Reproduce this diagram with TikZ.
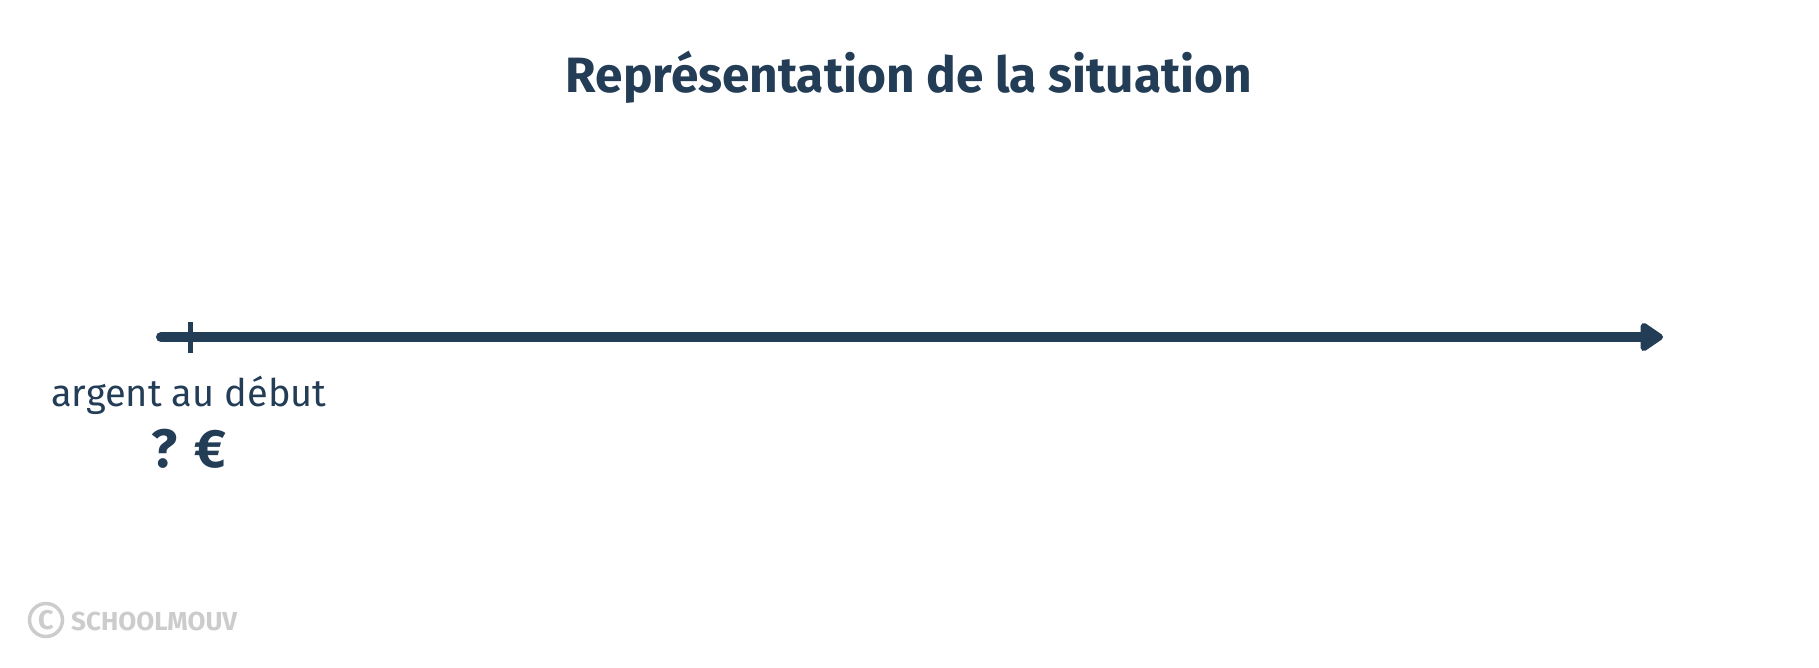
\documentclass[tikz,border=0pt]{standalone}
\usepackage{fontspec}
\setmainfont{Fira Sans}
\usetikzlibrary{arrows.meta}
\definecolor{navy}{RGB}{35,61,87}
\definecolor{logogray}{RGB}{204,204,204}
\begin{document}
\begin{tikzpicture}[x=1pt,y=-1pt,
  title/.style={text=navy,font=\fontsize{49.6}{60}\selectfont\bfseries,inner sep=0pt},
  lab/.style={text=navy,font=\fontsize{38}{44}\selectfont,inner sep=0pt},
  val/.style={text=navy,font=\fontsize{54}{64}\selectfont\bfseries,inner sep=0pt},
  axis/.style={draw=navy,line width=10pt,line cap=round,-{Triangle[length=25pt,width=32pt,round]}},
  tickmark/.style={draw=navy,line width=5pt}]
\useasboundingbox (0,0) rectangle (1819,667);
\fill[white] (0,0) rectangle (1819,667);
\node[title] (t) at (909,77) {Représentation de la situation};
\coordinate (a) at (161,337);
\coordinate (b) at (1663,337);
\draw[axis] (a) -- (b);
\coordinate (t0) at (190,322);
\coordinate (t1) at (190,353);
\draw[tickmark] (t0) -- (t1);
\node[lab,anchor=base] (l) at (189,406) {argent au début};
\node[val,anchor=base] (v) at (189,467) {? €};
\node[draw=logogray,line width=3.5pt,circle,minimum size=33pt,inner sep=0pt,text=logogray,font=\fontsize{27}{30}\selectfont\bfseries] (c) at (46,620) {C};
\node[text=logogray,font=\fontsize{26}{30}\selectfont\bfseries,anchor=west,inner sep=0pt] (s) at (71,621) {SCHOOLMOUV};
\end{tikzpicture}
\end{document}
